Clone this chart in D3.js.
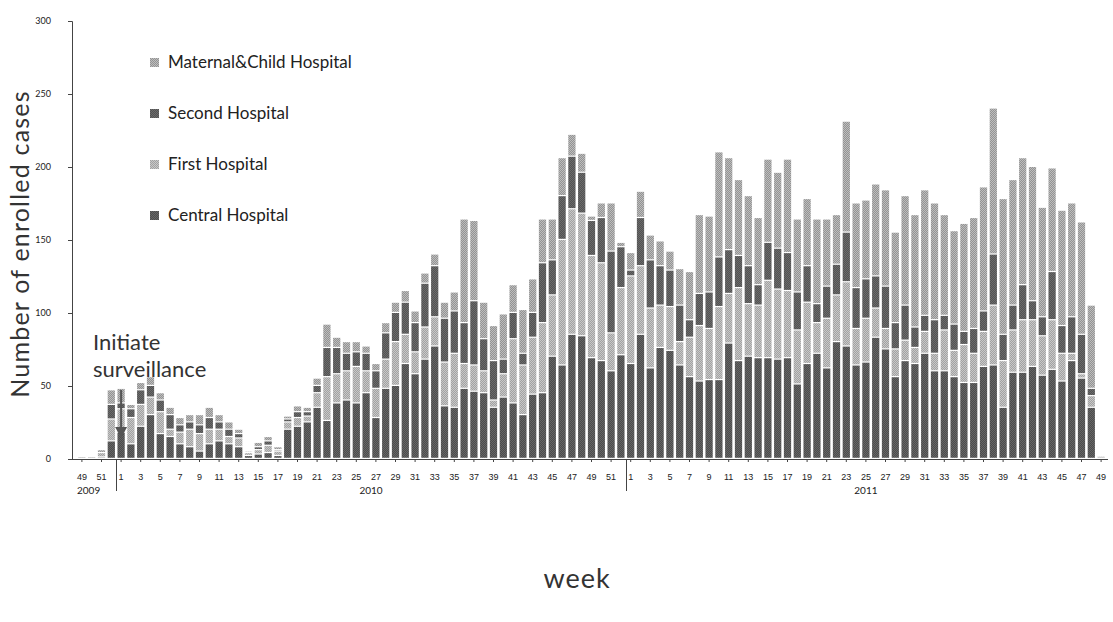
<!DOCTYPE html>
<html>
<head>
<meta charset="utf-8">
<script src="https://cdn.jsdelivr.net/npm/d3@7"></script>
<style>
  body { margin: 0; background: #fff; }
  svg { display: block; font-family: Lato, 'Open Sans', sans-serif; }
</style>
</head>
<body>
<div id="chart"></div>
<script>
const WIDTH = 1113;
const HEIGHT = 622;

// week numbers shown on the axis, per year
const weeks2009 = [49, 50, 51, 52];
const weeks2010 = [1, 2, 3, 4, 5, 6, 7, 8, 9, 10, 11, 12, 13, 14, 15, 16, 17, 18, 19, 20,
  21, 22, 23, 24, 25, 26, 27, 28, 29, 30, 31, 32, 33, 34, 35, 36, 37, 38, 39, 40,
  41, 42, 43, 44, 45, 46, 47, 48, 49, 50, 51, 52];
const weeks2011 = [1, 2, 3, 4, 5, 6, 7, 8, 9, 10, 11, 12, 13, 14, 15, 16, 17, 18, 19, 20,
  21, 22, 23, 24, 25, 26, 27, 28, 29, 30, 31, 32, 33, 34, 35, 36, 37, 38, 39, 40,
  41, 42, 43, 44, 45, 46, 47, 48, 49];
const years = ['2009', '2010', '2011'];

// cases per week, 2009 wk49 .. 2011 wk49
const central = [1, 1, 1, 12,
  18, 10, 22, 30, 17, 15, 10, 8, 5, 10, 12, 10, 8, 2, 3, 4, 2, 20, 22, 25,
  35, 26, 38, 40, 38, 45, 28, 48, 50, 65, 58, 68, 77, 36, 35, 48, 46, 45, 35, 42,
  38, 30, 44, 45, 70, 64, 85, 84, 69, 67, 60, 71,
  65, 85, 62, 76, 74, 64, 56, 53, 54, 54, 79, 67, 70, 69, 69, 68, 69, 51, 65, 72,
  62, 80, 77, 64, 66, 83, 75, 56, 67, 65, 72, 60, 60, 56, 52, 52, 63, 64, 35, 59,
  59, 63, 57, 61, 53, 67, 55, 35, 1];
const first = [0, 0, 3, 15,
  16, 18, 15, 12, 15, 5, 8, 12, 12, 10, 8, 5, 6, 2, 3, 5, 3, 5, 6, 4,
  10, 30, 20, 20, 25, 15, 20, 20, 30, 20, 15, 22, 20, 30, 37, 17, 18, 15, 5, 16,
  44, 34, 39, 48, 42, 86, 86, 84, 70, 67, 26, 46,
  60, 47, 41, 29, 30, 16, 27, 38, 35, 50, 34, 50, 36, 36, 53, 48, 46, 37, 42, 21,
  34, 32, 44, 25, 30, 20, 14, 19, 14, 11, 15, 12, 28, 18, 26, 20, 24, 41, 32, 29,
  36, 32, 27, 34, 19, 5, 3, 8, 1];
const second = [0, 0, 0, 10,
  4, 6, 10, 8, 8, 10, 5, 5, 6, 8, 5, 5, 3, 0, 2, 3, 1, 2, 4, 3,
  5, 20, 18, 12, 10, 12, 12, 18, 20, 22, 20, 30, 35, 30, 29, 28, 44, 22, 27, 10,
  18, 8, 17, 41, 24, 30, 36, 28, 24, 31, 56, 28,
  4, 33, 33, 27, 25, 25, 12, 22, 25, 34, 30, 22, 26, 14, 26, 28, 26, 26, 25, 13,
  22, 21, 34, 28, 27, 22, 29, 18, 24, 14, 11, 23, 10, 18, 9, 17, 14, 35, 18, 17,
  24, 13, 13, 33, 19, 25, 27, 5, 0];
const maternal = [0, 0, 2, 10,
  10, 3, 5, 6, 5, 5, 5, 5, 7, 7, 5, 5, 3, 1, 3, 3, 2, 2, 4, 3,
  5, 16, 7, 8, 7, 5, 5, 7, 7, 8, 8, 7, 8, 11, 13, 71, 55, 25, 24, 31,
  19, 30, 23, 30, 28, 26, 15, 13, 3, 10, 33, 3,
  12, 18, 17, 17, 13, 25, 33, 54, 52, 72, 63, 52, 48, 46, 57, 52, 64, 50, 46, 58,
  46, 34, 76, 58, 54, 63, 66, 62, 75, 77, 86, 80, 69, 64, 74, 76, 85, 100, 93, 86,
  87, 92, 75, 71, 79, 78, 77, 57, 0];

const seriesNames = ['Central Hospital', 'First Hospital', 'Second Hospital', 'Maternal&Child Hospital'];
const seriesKeys = ['central', 'first', 'second', 'maternal'];
// two tones per series, used as a small dither pattern like the printed figure
const tones = {
  central: ['#4c4c4c', '#666'],
  first: ['#a2a2a2', '#c8c8c8'],
  second: ['#525252', '#6c6c6c'],
  maternal: ['#939393', '#bdbdbd'],
};
const yTicks = [0, 50, 100, 150, 200, 250, 300];

const margin = { top: 21, left: 72, bottom: 459, right: 1108 };

const weekRows = [];
[[years[0], weeks2009], [years[1], weeks2010], [years[2], weeks2011]].forEach(([yr, ws]) => {
  ws.forEach((w) => weekRows.push({ key: `${yr}-${w}`, year: yr, week: w }));
});
const rows = weekRows.map((r, i) => ({
  ...r,
  central: central[i],
  first: first[i],
  second: second[i],
  maternal: maternal[i],
}));

const svg = d3
  .select('#chart')
  .append('svg')
  .attr('width', WIDTH)
  .attr('height', HEIGHT);

// dither patterns
const defs = svg.append('defs');
seriesKeys.forEach((k) => {
  const p = defs
    .append('pattern')
    .attr('id', `pat-${k}`)
    .attr('patternUnits', 'userSpaceOnUse')
    .attr('width', 2)
    .attr('height', 2);
  p.append('rect').attr('width', 2).attr('height', 2).attr('fill', tones[k][0]);
  p.append('rect').attr('width', 1).attr('height', 1).attr('fill', tones[k][1]);
  p.append('rect').attr('x', 1).attr('y', 1).attr('width', 1).attr('height', 1).attr('fill', tones[k][1]);
});

const x = d3
  .scaleBand()
  .domain(rows.map((d) => d.key))
  .range([77, 1106])
  .paddingInner(0.26)
  .paddingOuter(0.13);

const y = d3.scaleLinear().domain([0, 300]).range([margin.bottom, margin.top]);

const stacked = d3.stack().keys(seriesKeys)(rows);

// bars
svg
  .append('g')
  .selectAll('g')
  .data(stacked)
  .join('g')
  .attr('fill', (s) => `url(#pat-${s.key})`)
  .selectAll('rect')
  .data((s) => s)
  .join('rect')
  .attr('x', (d) => x(d.data.key))
  .attr('width', x.bandwidth())
  .attr('y', (d) => y(d[1]))
  .attr('height', (d) => Math.max(0, y(d[0]) - y(d[1]) - 1.2));

// y axis
const yAxis = svg
  .append('g')
  .attr('transform', `translate(${margin.left},0)`)
  .call(d3.axisLeft(y).tickValues(yTicks).tickSize(4).tickPadding(17));
yAxis.select('.domain').attr('stroke', '#444');
yAxis.selectAll('.tick line').attr('stroke', '#444');
yAxis.selectAll('text').attr('font-size', 9).attr('fill', '#222').attr('font-family', 'Lato');

// x axis
const xAxis = svg
  .append('g')
  .attr('transform', `translate(0,${margin.bottom})`)
  .call(
    d3
      .axisBottom(x)
      .tickValues(rows.filter((d) => d.week % 2 === 1).map((d) => d.key))
      .tickFormat((k) => k.split('-')[1])
      .tickSize(3)
      .tickPadding(12)
  );
xAxis.select('.domain').remove();
xAxis.selectAll('.tick line').attr('stroke', '#444');
xAxis.selectAll('text').attr('font-size', 9).attr('fill', '#222');

svg
  .append('line')
  .attr('x1', margin.left)
  .attr('x2', margin.right)
  .attr('y1', margin.bottom + 0.5)
  .attr('y2', margin.bottom + 0.5)
  .attr('stroke', '#444');

// year separators and labels
const halfGap = (x.step() * x.paddingInner()) / 2;
['2010-1', '2011-1'].forEach((k) => {
  const bx = Math.round(x(k) - halfGap) + 0.5;
  svg
    .append('line')
    .attr('x1', bx)
    .attr('x2', bx)
    .attr('y1', margin.bottom)
    .attr('y2', margin.bottom + 32)
    .attr('stroke', '#444');
});
years.forEach((yr) => {
  const ks = rows.filter((d) => d.year === yr).map((d) => d.key);
  const cx = (x(ks[0]) + x(ks[ks.length - 1]) + x.bandwidth()) / 2;
  svg
    .append('text')
    .attr('x', yr === '2009' ? cx - 8 : cx)
    .attr('y', margin.bottom + 35)
    .attr('text-anchor', 'middle')
    .attr('font-size', 10)
    .attr('fill', '#222')
    .text(yr);
});

// axis titles
svg
  .append('text')
  .attr('transform', `translate(29,${(margin.top + margin.bottom) / 2 + 4}) rotate(-90)`)
  .attr('text-anchor', 'middle')
  .attr('font-size', 25)
  .attr('letter-spacing', 1.2)
  .attr('fill', '#333')
  .text('Number of enrolled cases');

svg
  .append('text')
  .attr('x', 577)
  .attr('y', 588)
  .attr('text-anchor', 'middle')
  .attr('font-size', 27)
  .attr('letter-spacing', 1)
  .attr('fill', '#333')
  .text('week');

// legend (top to bottom: last series first)
const legend = svg
  .append('g')
  .selectAll('g')
  .data(seriesKeys.slice().reverse())
  .join('g')
  .attr('transform', (d, i) => `translate(150,${63 + i * 51})`);
legend
  .append('rect')
  .attr('x', 0)
  .attr('y', -5)
  .attr('width', 9)
  .attr('height', 9)
  .attr('fill', (d) => `url(#pat-${d})`);
legend
  .append('text')
  .attr('x', 18)
  .attr('y', 5)
  .attr('font-size', 17)
  .attr('fill', '#222')
  .text((d) => seriesNames[seriesKeys.indexOf(d)]);

// annotation
const ax = x('2010-1') + x.bandwidth() / 2;
svg
  .append('text')
  .attr('x', 93)
  .attr('y', 350)
  .attr('font-size', 22)
  .attr('fill', '#333')
  .selectAll('tspan')
  .data(['Initiate', 'surveillance'])
  .join('tspan')
  .attr('x', 93)
  .attr('dy', (d, i) => (i === 0 ? 0 : 27))
  .text((d) => d);
svg
  .append('line')
  .attr('x1', ax)
  .attr('x2', ax)
  .attr('y1', 390)
  .attr('y2', 430)
  .attr('stroke', '#555')
  .attr('stroke-width', 2);
svg
  .append('path')
  .attr('d', `M${ax - 6},${427} L${ax + 6},${427} L${ax},${438} Z`)
  .attr('fill', '#555');
</script>
</body>
</html>
